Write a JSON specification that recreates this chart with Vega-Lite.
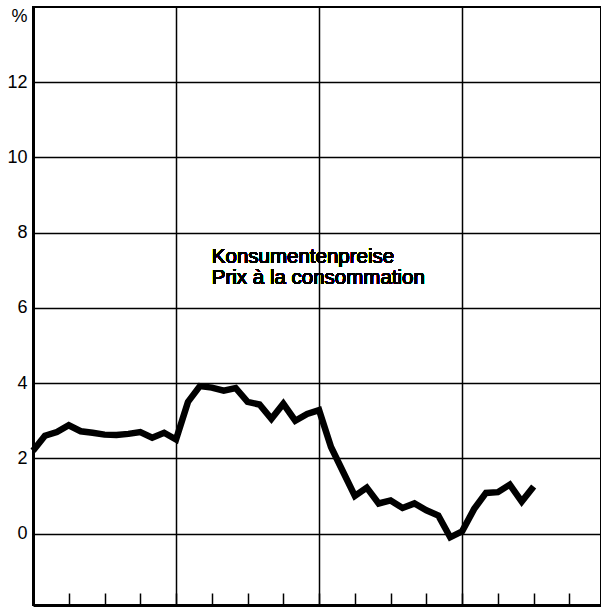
{
  "$schema": "https://vega.github.io/schema/vega-lite/v6.json",
  "width": 568,
  "height": 598,
  "autosize": {"type": "none"},
  "padding": {"left": 33, "top": 7, "right": 0, "bottom": 5},
  "background": "white",
  "config": {
    "view": {"stroke": "black", "strokeWidth": 2},
    "font": "Liberation Sans"
  },
  "data": {
    "values": [
      {"m": 0, "v": 2.2}, {"m": 1, "v": 2.6}, {"m": 2, "v": 2.7}, {"m": 3, "v": 2.88},
      {"m": 4, "v": 2.72}, {"m": 5, "v": 2.68}, {"m": 6, "v": 2.63}, {"m": 7, "v": 2.62},
      {"m": 8, "v": 2.65}, {"m": 9, "v": 2.7}, {"m": 10, "v": 2.55}, {"m": 11, "v": 2.68},
      {"m": 12, "v": 2.5}, {"m": 13, "v": 3.5}, {"m": 14, "v": 3.92}, {"m": 15, "v": 3.88},
      {"m": 16, "v": 3.8}, {"m": 17, "v": 3.87}, {"m": 18, "v": 3.5}, {"m": 19, "v": 3.43},
      {"m": 20, "v": 3.05}, {"m": 21, "v": 3.45}, {"m": 22, "v": 3.0}, {"m": 23, "v": 3.18},
      {"m": 24, "v": 3.28}, {"m": 25, "v": 2.3}, {"m": 26, "v": 1.65}, {"m": 27, "v": 1.0},
      {"m": 28, "v": 1.22}, {"m": 29, "v": 0.8}, {"m": 30, "v": 0.88}, {"m": 31, "v": 0.68},
      {"m": 32, "v": 0.8}, {"m": 33, "v": 0.62}, {"m": 34, "v": 0.48}, {"m": 35, "v": -0.1},
      {"m": 36, "v": 0.06}, {"m": 37, "v": 0.65}, {"m": 38, "v": 1.08}, {"m": 39, "v": 1.1},
      {"m": 40, "v": 1.3}, {"m": 41, "v": 0.85}, {"m": 42, "v": 1.25}
    ]
  },
  "encoding": {
    "x": {
      "field": "m", "type": "quantitative",
      "scale": {"domain": [0, 47.65], "nice": false, "zero": false},
      "axis": {
        "title": null,
        "values": [3, 6, 9, 12, 15, 18, 21, 24, 27, 30, 33, 36, 39, 42, 45],
        "labels": false,
        "ticks": true,
        "tickSize": -12,
        "tickWidth": 1.5,
        "tickColor": "black",
        "grid": true,
        "gridColor": "black",
        "gridWidth": 1.5,
        "gridOpacity": {"condition": {"test": "datum.value % 12 === 0", "value": 1}, "value": 0},
        "domain": true,
        "domainColor": "black",
        "domainWidth": 3
      }
    },
    "y": {
      "field": "v", "type": "quantitative",
      "scale": {"domain": [-1.9, 14], "nice": false, "zero": false},
      "axis": {
        "title": null,
        "values": [0, 2, 4, 6, 8, 10, 12, 14],
        "labelExpr": "datum.value === 14 ? '%' : datum.label",
        "labelFontSize": 18,
        "labelColor": "black",
        "labelPadding": 6,
        "labelBaseline": {"condition": {"test": "datum.value === 14", "value": "top"}, "value": "middle"},
        "ticks": false,
        "grid": true,
        "gridColor": "black",
        "gridWidth": 1.5,
        "gridOpacity": {"condition": {"test": "datum.value === 14", "value": 0}, "value": 1},
        "domain": true,
        "domainColor": "black",
        "domainWidth": 3
      }
    }
  },
  "layer": [
    {
      "mark": {"type": "line", "color": "black", "strokeWidth": 6.5, "strokeJoin": "miter", "strokeCap": "butt"}
    },
    {
      "mark": {
        "type": "text",
        "text": ["Konsumentenpreise", "Prix à la consommation"],
        "align": "left",
        "baseline": "alphabetic",
        "fontSize": 20.5,
        "lineHeight": 21,
        "color": "black"
      },
      "encoding": {
        "x": {"datum": 15.0},
        "y": {"datum": 7.2}
      }
    }
  ]
}
